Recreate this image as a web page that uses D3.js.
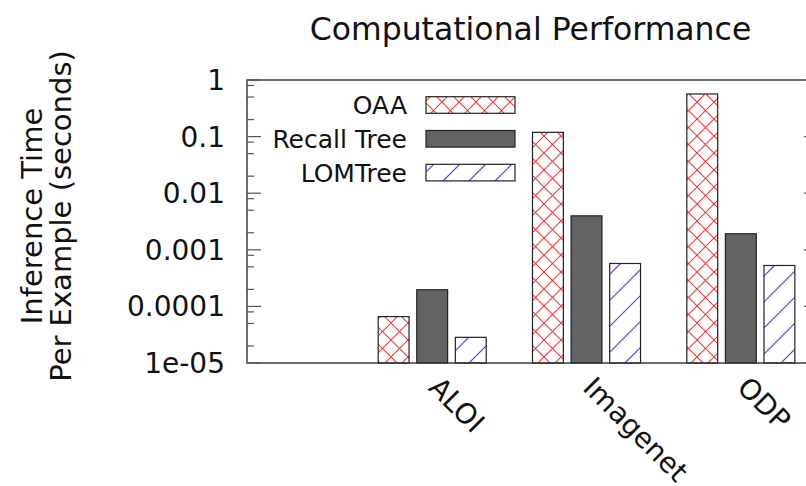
<!DOCTYPE html>
<html>
<head>
<meta charset="utf-8">
<script src="https://cdn.jsdelivr.net/npm/d3@7"></script>
<style>
  html, body { margin: 0; padding: 0; background: #fff; overflow: hidden; }
  svg { display: block; font-family: "DejaVu Sans", sans-serif; }
</style>
</head>
<body>
<div id="chartContainer"></div>
<script>
// data
const categories = ["ALOI", "Imagenet", "ODP"];
const seriesNames = ["OAA", "Recall Tree", "LOMTree"];
const oaa = [6.6e-5, 0.119, 0.566];
const recallTree = [1.97e-4, 0.00398, 0.00192];
const lomTree = [2.84e-5, 5.73e-4, 5.28e-4];
const yTicks = [1, 0.1, 0.01, 0.001, 0.0001, 1e-5];
const yTickLabels = ["1", "0.1", "0.01", "0.001", "0.0001", "1e-05"];

const seriesValues = [oaa, recallTree, lomTree];

const W = 806, H = 486;
const plot = { left: 247, right: 818, top: 80, bottom: 363 };

const svg = d3.select("#chartContainer")
    .append("svg")
    .attr("width", W)
    .attr("height", H);

const defs = svg.append("defs");
let clipCount = 0;

// style per series: 0 = red cross hatch, 1 = solid grey, 2 = blue slashes
const styles = [
    { fill: "#fff", hatch: "cross", color: "#f23a3a", period: 17 },
    { fill: "#636363", hatch: null },
    { fill: "#fff", hatch: "slash", color: "#3d3dff", period: 26 }
];

// draw a box with hatch lines clipped to it (lines on a page-wide grid, like gnuplot)
function hatchBox(parent, x, y, w, h, st) {
    const g = parent.append("g");
    g.append("rect")
        .attr("x", x).attr("y", y).attr("width", w).attr("height", h)
        .attr("fill", st.fill);
    if (st.hatch) {
        const id = "clip" + (clipCount++);
        defs.append("clipPath").attr("id", id)
            .append("rect").attr("x", x).attr("y", y).attr("width", w).attr("height", h);
        const lg = g.append("g").attr("clip-path", `url(#${id})`)
            .attr("stroke", st.color).attr("stroke-width", 1.1).attr("fill", "none");
        const P = st.period;
        const x1 = x + w, y1 = y + h;
        // lines y = -x + c  ("/")
        for (let k = Math.floor((y + x) / P) - 1; k <= Math.ceil((y1 + x1) / P) + 1; k++) {
            const c = k * P;
            lg.append("line").attr("x1", c - y1).attr("y1", y1).attr("x2", c - y).attr("y2", y);
        }
        if (st.hatch === "cross") {
            // lines y = x + c  ("\")
            for (let k = Math.floor((y - x1) / P) - 1; k <= Math.ceil((y1 - x) / P) + 1; k++) {
                const c = k * P;
                lg.append("line").attr("x1", y - c).attr("y1", y).attr("x2", y1 - c).attr("y2", y1);
            }
        }
    }
    g.append("rect")
        .attr("x", x).attr("y", y).attr("width", w).attr("height", h)
        .attr("fill", "none")
        .attr("stroke", "#222")
        .attr("stroke-width", 1.2);
}

// scales
const xScale = d3.scaleLinear()
    .domain([-1.2, 2.5])
    .range([plot.left, plot.right]);

const yScale = d3.scaleLog()
    .domain([1e-5, 1])
    .range([plot.bottom, plot.top]);

const barW = xScale(0.2) - xScale(0);

// bars
const barG = svg.append("g");
seriesValues.forEach((vals, j) => {
    vals.forEach((v, i) => {
        const bx = xScale(i + (j - 1) * 0.25) - barW / 2;
        const by = yScale(v);
        hatchBox(barG, bx, by, barW, plot.bottom - by, styles[j]);
    });
});

// frame
svg.append("rect")
    .attr("x", plot.left)
    .attr("y", plot.top)
    .attr("width", plot.right - plot.left)
    .attr("height", plot.bottom - plot.top)
    .attr("fill", "none")
    .attr("stroke", "#333")
    .attr("stroke-width", 1.4);

// y ticks, inward on both sides
const minorTicks = [];
for (let e = -5; e < 0; e++) {
    [2, 5, 8].forEach(m => minorTicks.push(m * Math.pow(10, e)));
}
const tickG = svg.append("g").attr("stroke", "#555").attr("stroke-width", 1.2);
yTicks.forEach(t => {
    const y = yScale(t);
    tickG.append("line").attr("x1", plot.left).attr("x2", plot.left + 14).attr("y1", y).attr("y2", y);
    tickG.append("line").attr("x1", plot.right).attr("x2", plot.right - 14).attr("y1", y).attr("y2", y);
});
minorTicks.forEach(t => {
    const y = yScale(t);
    tickG.append("line").attr("x1", plot.left).attr("x2", plot.left + 7).attr("y1", y).attr("y2", y);
    tickG.append("line").attr("x1", plot.right).attr("x2", plot.right - 7).attr("y1", y).attr("y2", y);
});

// y tick labels
svg.append("g")
    .selectAll("text")
    .data(yTicks)
    .enter()
    .append("text")
    .attr("x", plot.left - 22)
    .attr("y", d => yScale(d))
    .attr("dy", "0.36em")
    .attr("text-anchor", "end")
    .style("font-size", "28px")
    .style("fill", "#111")
    .text((d, i) => yTickLabels[i]);

// x labels, rotated
svg.append("g")
    .selectAll("text")
    .data(categories)
    .enter()
    .append("text")
    .attr("transform", (d, i) => `translate(${xScale(i) - 5},${plot.bottom + 26}) rotate(45)`)
    .attr("text-anchor", "start")
    .style("font-size", "28px")
    .style("fill", "#111")
    .text(d => d);

// title
svg.append("text")
    .attr("x", (plot.left + plot.right) / 2 - 2)
    .attr("y", 40)
    .attr("text-anchor", "middle")
    .style("font-size", "31.5px")
    .style("fill", "#111")
    .text("Computational Performance");

// y axis title, two lines
const yTitle = svg.append("text")
    .attr("transform", "translate(0,216) rotate(-90)")
    .attr("text-anchor", "middle")
    .style("font-size", "29px")
    .style("fill", "#111");
yTitle.append("tspan").attr("x", 0).attr("y", 42).text("Inference Time");
yTitle.append("tspan").attr("x", 0).attr("y", 71).text("Per Example (seconds)");

// legend
const legend = svg.append("g");
seriesNames.forEach((name, j) => {
    const cy = 105 + j * 33.8;
    hatchBox(legend, 426, cy - 8.3, 89, 16.6, styles[j]);
    legend.append("text")
        .attr("x", 407).attr("y", cy)
        .attr("dy", "0.36em")
        .attr("text-anchor", "end")
        .style("font-size", "25px")
        .style("fill", "#111")
        .text(name);
});
</script>
</body>
</html>
